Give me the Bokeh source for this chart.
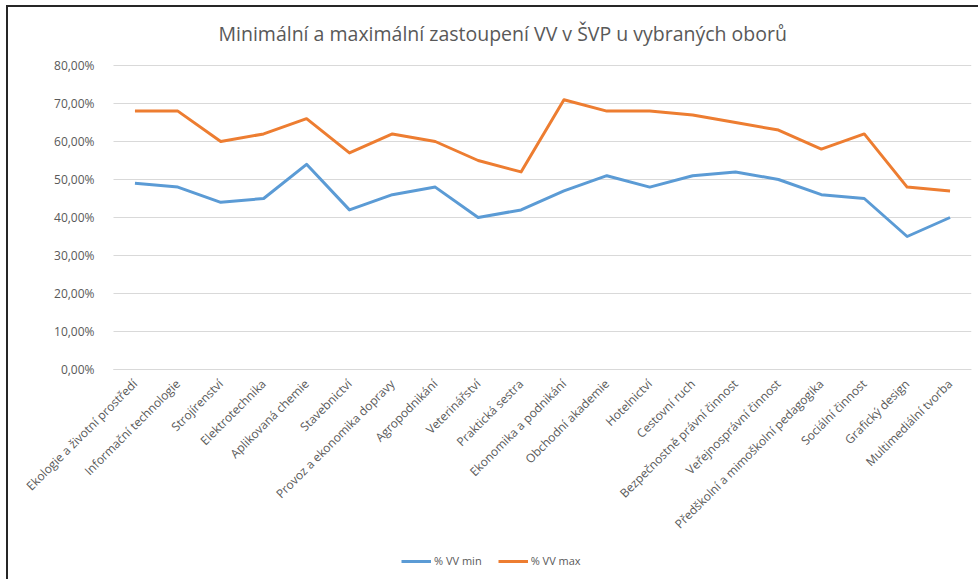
from math import pi
from bokeh.plotting import figure
from bokeh.models import (Range1d, FixedTicker, Legend, LegendItem,
                          ColumnDataSource, Grid)
from bokeh.embed import file_html
from bokeh.resources import INLINE

categories = [
    "Ekologie a životní prostředí", "Informační technologie", "Strojírenství",
    "Elektrotechnika", "Aplikovaná chemie", "Stavebnictví",
    "Provoz a ekonomika dopravy", "Agropodnikání", "Veterinářství",
    "Praktická sestra", "Ekonomika a podnikání", "Obchodní akademie",
    "Hotelnictví", "Cestovní ruch", "Bezpečnostně právní činnost",
    "Veřejnosprávní činnost", "Předškolní a mimoškolní pedagogika",
    "Sociální činnost", "Grafický design", "Multimediální tvorba",
]
vv_min = [0.49, 0.48, 0.44, 0.45, 0.54, 0.42, 0.46, 0.48, 0.40, 0.42,
          0.47, 0.51, 0.48, 0.51, 0.52, 0.50, 0.46, 0.45, 0.35, 0.40]
vv_max = [0.68, 0.68, 0.60, 0.62, 0.66, 0.57, 0.62, 0.60, 0.55, 0.52,
          0.71, 0.68, 0.68, 0.67, 0.65, 0.63, 0.58, 0.62, 0.48, 0.47]
y_ticks = [0.0, 0.1, 0.2, 0.3, 0.4, 0.5, 0.6, 0.7, 0.8]
y_tick_labels = ["0,00%", "10,00%", "20,00%", "30,00%", "40,00%",
                 "50,00%", "60,00%", "70,00%", "80,00%"]
series_names = ["% VV min", "% VV max"]
title_text = "Minimální a maximální zastoupení VV v ŠVP u vybraných oborů"

# category slots: category i sits in the middle of slot [i, i+1]
n_cat = len(categories)
x_pos = [i + 0.5 for i in range(n_cat)]

src = ColumnDataSource(dict(x=x_pos, cat=categories, vmin=vv_min, vmax=vv_max))

TXT = "#595959"
GRID = "#d9d9d9"
FONT = "Open Sans"

# plot area of the chart: 858 x 304 px; the frame is extended to the left,
# upwards and downwards so that the axis labels and the legend fit inside it.
PLOT_W, PLOT_H = 858, 304
LEFT_EXTRA, BOTTOM_EXTRA, TOP_EXTRA = 103, 210, 10
px_x = PLOT_W / n_cat
px_y = PLOT_H / 0.8
x_start = -LEFT_EXTRA / px_x
y_start = -BOTTOM_EXTRA / px_y
y_end = 0.8 + TOP_EXTRA / px_y

p = figure(
    x_range=Range1d(x_start, n_cat),
    y_range=Range1d(y_start, y_end),
    width=970, height=572,
    frame_width=PLOT_W + LEFT_EXTRA,
    frame_height=PLOT_H + BOTTOM_EXTRA + TOP_EXTRA,
    min_border_left=2, min_border_right=7, min_border_top=48, min_border_bottom=0,
    output_backend="svg", toolbar_location=None,
    title=title_text,
)
p.styles = {"border-top": "2px solid #262626", "border-left": "2px solid #262626",
            "margin-left": "6px", "margin-top": "5px"}

p.title.text_font = FONT
p.title.text_font_style = "normal"
p.title.text_font_size = "19.5px"
p.title.text_color = TXT
p.title.align = "left"
p.title.offset = 208
p.title.standoff = 18

p.outline_line_color = None
p.background_fill_color = "white"
p.border_fill_color = "white"

# y axis, pinned at the left edge of the plot area
p.yaxis.fixed_location = 0
p.yaxis.bounds = (0, 0.8)
p.yaxis.ticker = FixedTicker(ticks=y_ticks)
p.yaxis.major_label_overrides = {t: l for t, l in zip(y_ticks, y_tick_labels)}
p.yaxis.axis_line_color = None
p.yaxis.major_tick_line_color = None
p.yaxis.minor_tick_line_color = None
p.yaxis.major_label_text_font = FONT
p.yaxis.major_label_text_font_size = "12px"
p.yaxis.major_label_text_color = TXT
p.yaxis.major_label_standoff = 13

# x axis, pinned to the 0 % line
p.xaxis.fixed_location = 0
p.xaxis.bounds = (0, n_cat)
p.xaxis.ticker = FixedTicker(ticks=x_pos)
p.xaxis.major_label_overrides = {x: c for x, c in zip(x_pos, categories)}
p.xaxis.axis_line_color = GRID
p.xaxis.major_tick_line_color = None
p.xaxis.minor_tick_line_color = None
p.xaxis.major_label_orientation = pi / 4
p.xaxis.major_label_text_font = FONT
p.xaxis.major_label_text_font_size = "12px"
p.xaxis.major_label_text_color = TXT
p.xaxis.major_label_standoff = 6

p.xgrid.grid_line_color = None
if "cross_bounds" in Grid.properties():
    p.ygrid.ticker = FixedTicker(ticks=y_ticks)
    p.ygrid.grid_line_color = GRID
    p.ygrid.cross_bounds = (0, n_cat)
else:
    p.ygrid.grid_line_color = None
    p.segment(x0=[0] * len(y_ticks), x1=[n_cat] * len(y_ticks),
              y0=y_ticks, y1=y_ticks, line_color=GRID, line_width=1)

r1 = p.line("x", "vmin", source=src, line_color="#5B9BD5", line_width=3,
            line_join="round")
r2 = p.line("x", "vmax", source=src, line_color="#ED7D31", line_width=3,
            line_join="round")

legend = Legend(
    items=[LegendItem(label=series_names[0], renderers=[r1]),
           LegendItem(label=series_names[1], renderers=[r2])],
    orientation="horizontal",
    location=(LEFT_EXTRA + 288, 11),
    label_text_font=FONT, label_text_font_size="11px", label_text_color=TXT,
    glyph_width=30, glyph_height=14, label_standoff=3, spacing=16,
    padding=2, margin=0,
    border_line_color=None, background_fill_alpha=0,
)
p.add_layout(legend, "center")

open("out.html", "w").write(file_html(p, INLINE))
